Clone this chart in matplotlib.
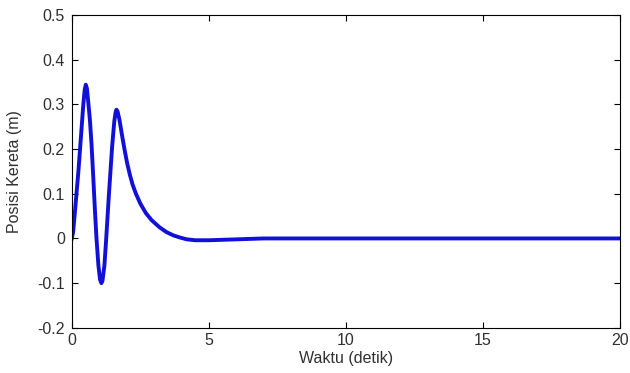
import matplotlib
matplotlib.use("Agg")
import matplotlib.pyplot as plt

plt.rcParams["font.family"] = ["Liberation Sans", "DejaVu Sans"]

# values (time in s, position in m)
time_s = [0.0, 0.05, 0.1, 0.17, 0.24, 0.3, 0.36, 0.42, 0.47, 0.51, 0.55,
          0.6, 0.66, 0.72, 0.78, 0.84, 0.9, 0.97, 1.03, 1.08, 1.12, 1.19,
          1.25, 1.35, 1.47, 1.55, 1.6, 1.63, 1.67, 1.74, 1.82, 1.92, 2.02,
          2.12, 2.22, 2.34, 2.5, 2.7, 2.91, 3.2, 3.46, 3.7, 3.95, 4.2, 4.5,
          5.0, 5.5, 6.0, 6.5, 7.0, 8.0, 9.0, 10.0, 12.0, 14.0, 16.0, 18.0,
          20.0]
posisi_m = [0.0, 0.015, 0.05, 0.1, 0.15, 0.2, 0.25, 0.3, 0.333, 0.344,
            0.336, 0.305, 0.265, 0.21, 0.14, 0.067, 0.0, -0.06, -0.092,
            -0.1, -0.094, -0.06, -0.005, 0.095, 0.205, 0.262, 0.283, 0.288,
            0.284, 0.265, 0.235, 0.2, 0.168, 0.142, 0.12, 0.1, 0.078, 0.057,
            0.041, 0.025, 0.014, 0.007, 0.002, -0.002, -0.004, -0.004,
            -0.003, -0.002, -0.001, 0.0, 0.0, 0.0, 0.0, 0.0, 0.0, 0.0, 0.0,
            0.0]

x_ticks = [0, 5, 10, 15, 20]
y_ticks = [-0.2, -0.1, 0, 0.1, 0.2, 0.3, 0.4, 0.5]
y_tick_labels = ["-0.2", "-0.1", "0", "0.1", "0.2", "0.3", "0.4", "0.5"]

fig = plt.figure(figsize=(6.3, 3.73), dpi=100)
ax = fig.add_axes([0.114, 0.121, 0.870, 0.839])

ax.plot(time_s, posisi_m, color="#1010d8", linewidth=2.8)

ax.set_xlim(0, 20)
ax.set_ylim(-0.2, 0.5)
ax.set_xticks(x_ticks)
ax.set_yticks(y_ticks)
ax.set_yticklabels(y_tick_labels)
ax.tick_params(direction="in", top=True, right=True, length=4,
               labelsize=11.5, labelcolor="#303030")
ax.tick_params(axis="x", pad=4)
ax.tick_params(axis="y", pad=5)
for spine in ax.spines.values():
    spine.set_linewidth(0.8)

ax.set_xlabel("Waktu (detik)", fontsize=11.5, color="#303030")
ax.set_ylabel("Posisi Kereta (m)", fontsize=11.5, color="#303030")
ax.xaxis.set_label_coords(0.5, -0.075)
ax.yaxis.set_label_coords(-0.09, 0.5)

fig.savefig("out.png", dpi=100)
